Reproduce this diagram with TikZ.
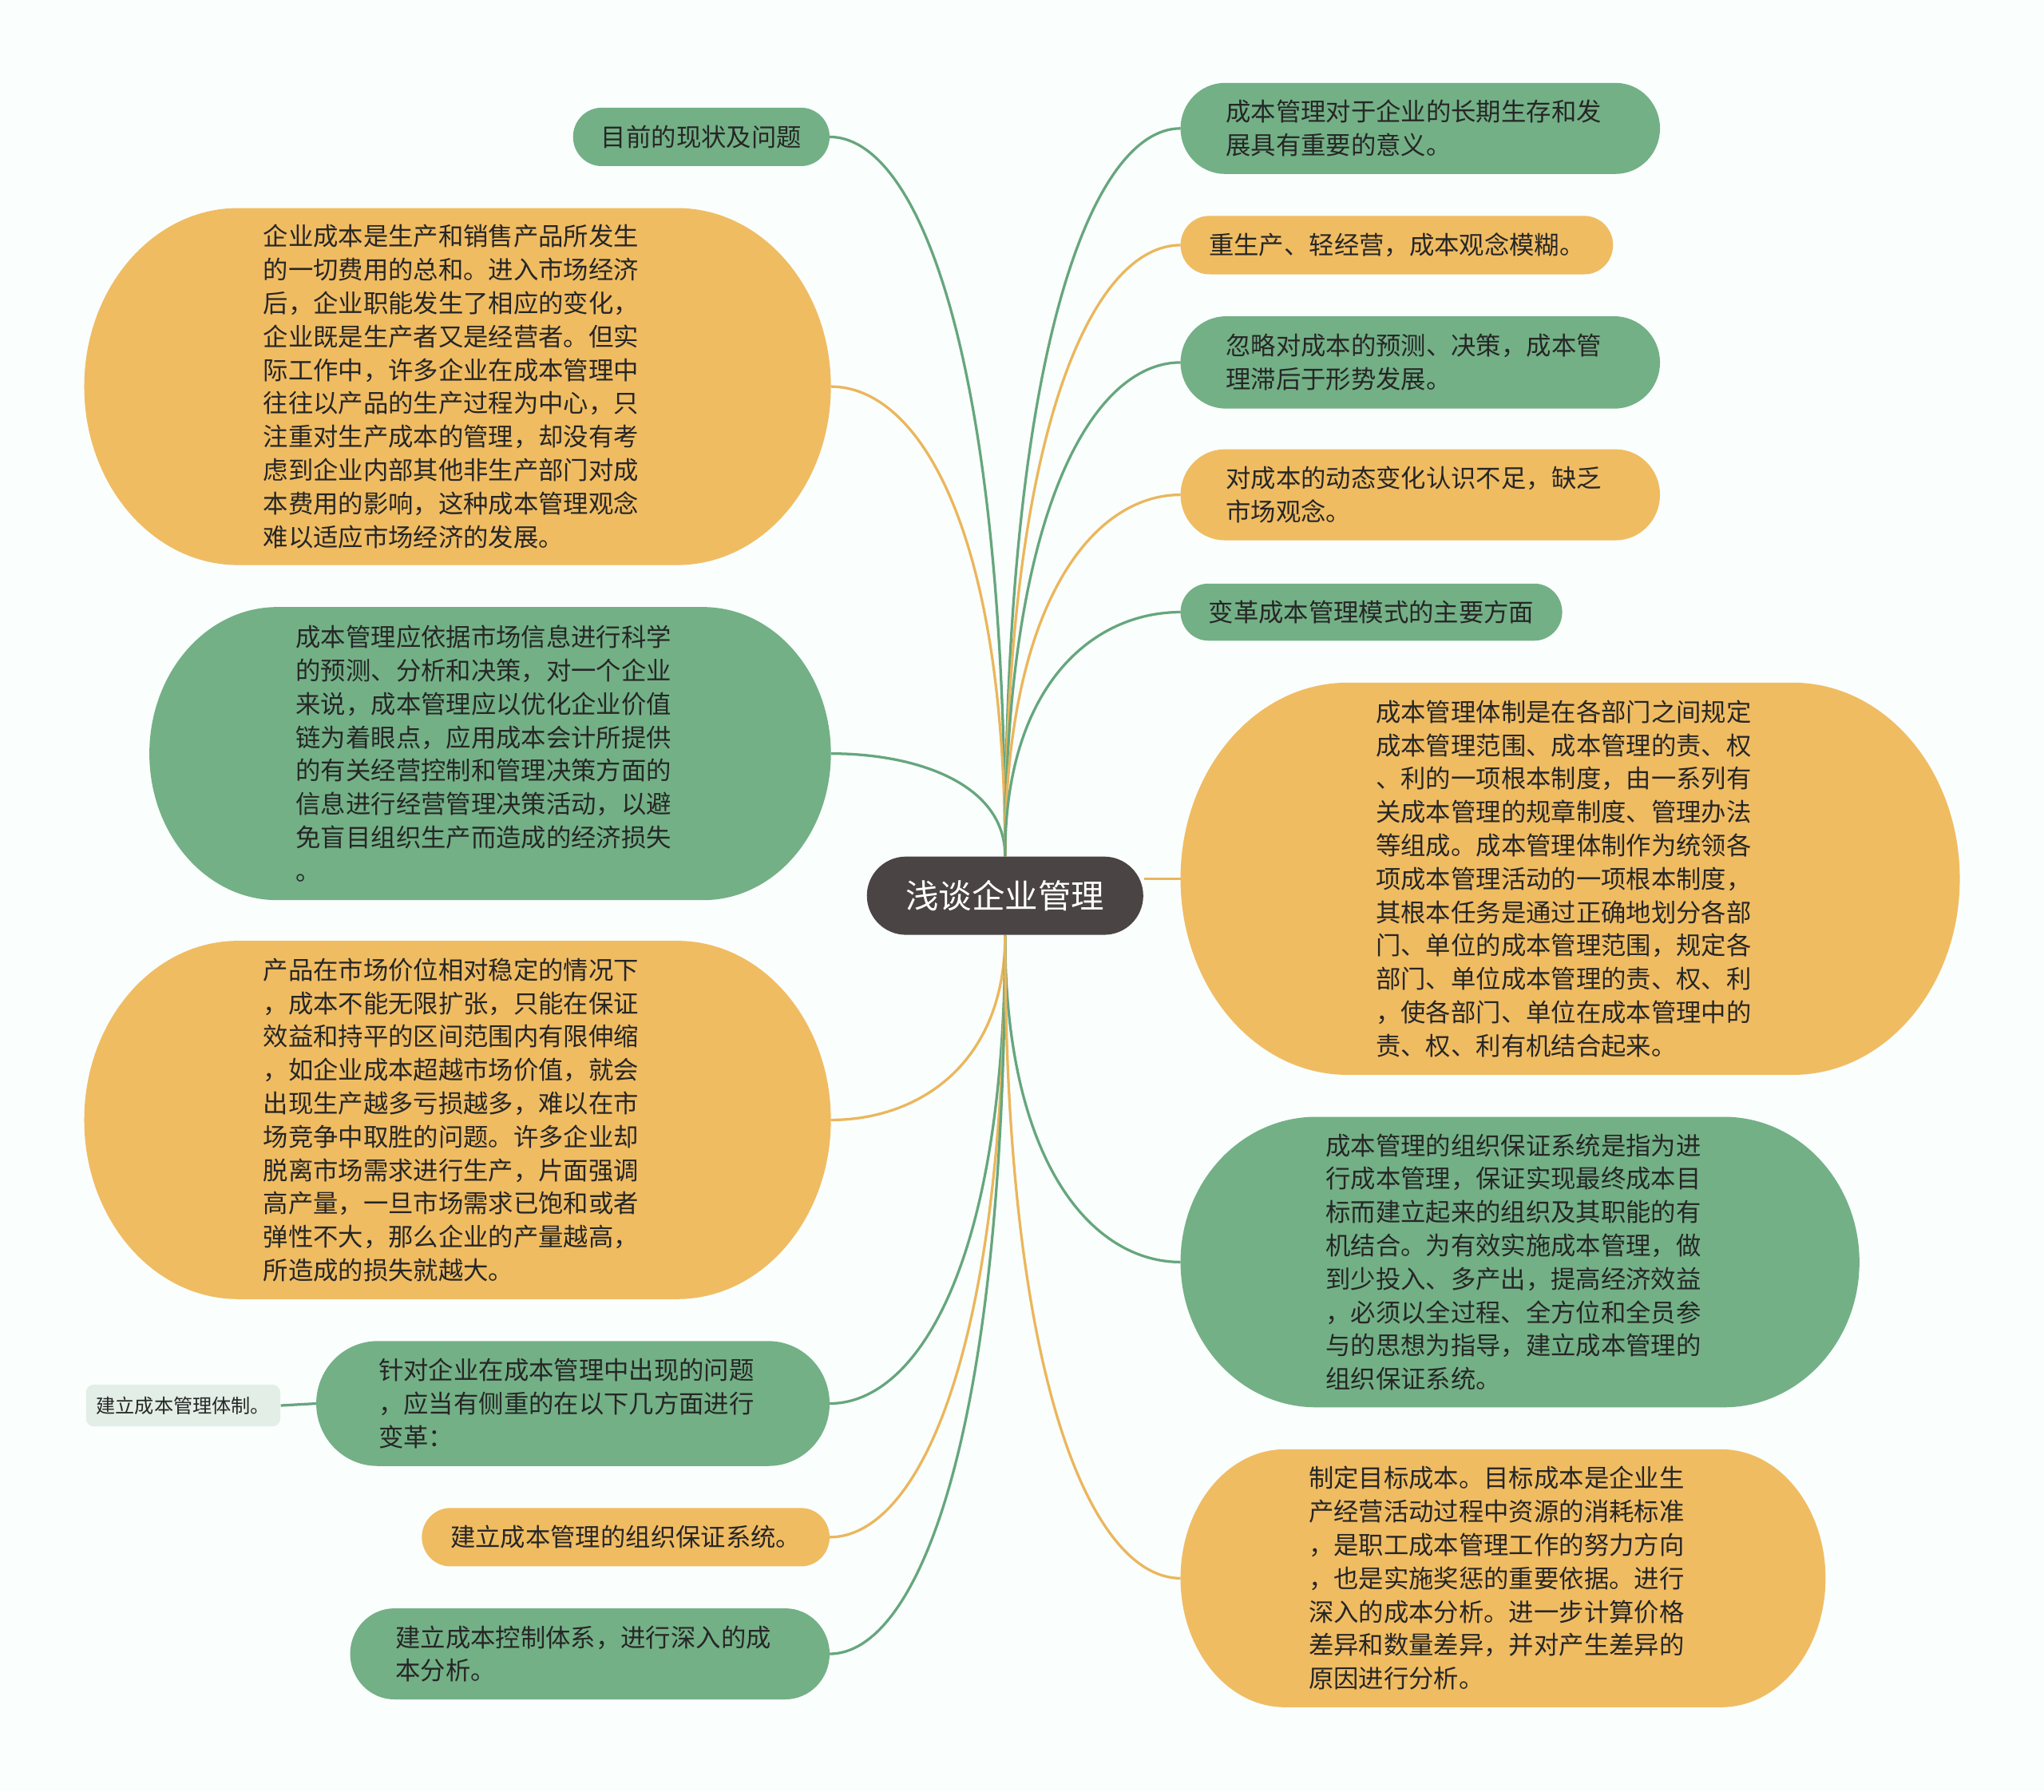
\documentclass[tikz,border=0pt]{standalone}
\usepackage{fontspec}
\setmainfont{Noto Sans CJK SC}
\usetikzlibrary{calc,shapes.misc}
\pgfdeclarelayer{pagelayer}
\pgfdeclarelayer{bg}
\pgfsetlayers{pagelayer,bg,main}
\definecolor{gfill}{HTML}{73B086}
\definecolor{ofill}{HTML}{F0BC62}
\definecolor{gline}{HTML}{66A67D}
\definecolor{oline}{HTML}{EBB65C}
\definecolor{ctrfill}{HTML}{4A4445}
\definecolor{pagebg}{HTML}{FAFEFD}
\definecolor{txt}{HTML}{262626}
\definecolor{lightfill}{HTML}{E2EEE6}
\newcommand\bubble[3]{%
  \fill[#3] let \p1=(#1.north west), \p2=(#1.south east), \n1={0.5*(\y1-\y2)} in
    (\x1+#2,\y1) -- (\x2-#2,\y1)
    arc[start angle=90,end angle=-90,x radius=#2,y radius={\n1*1pt}]
    -- (\x1+#2,\y2)
    arc[start angle=270,end angle=90,x radius=#2,y radius={\n1*1pt}] -- cycle;}
\newcommand\link[3]{%
  \draw[#3] let \p1=(#1), \p2=(#2) in
    (\p1) .. controls (\x1,{\y1+0.7*(\y2-\y1)}) and ({\x1+0.5*(\x2-\x1)},\y2) .. (\p2);}
\tikzset{
  bub/.style={inner sep=0pt, align=left, text=txt, font=\fontsize{9.6}{12.8}\selectfont},
  wide/.style={text width=149pt},
  gconn/.style={draw=gline, line width=1pt},
  oconn/.style={draw=oline, line width=1pt},
}
\begin{document}
\begin{tikzpicture}[x=0.5pt,y=-0.5pt]
\begin{pgfonlayer}{pagelayer}
\path[use as bounding box, fill=pagebg] (0,0) rectangle (1568,1374);
\end{pgfonlayer}

% centre
\node[rounded rectangle, fill=ctrfill, text=white, inner sep=0pt,
      minimum width=106pt, minimum height=30pt,
      font=\fontsize{12.7}{15}\selectfont] (C) at (771,687) {浅谈企业管理};

% left side
\node[bub, minimum width=98pt, minimum height=22pt] (L1) at (538,105) {目前的现状及问题};
\node[bub, wide, minimum width=286pt, minimum height=136.5pt] (L2) at (351,296.5) {企业成本是生产和销售产品所发生\\
的一切费用的总和。进入市场经济\\
后，企业职能发生了相应的变化，\\
企业既是生产者又是经营者。但实\\
际工作中，许多企业在成本管理中\\
往往以产品的生产过程为中心，只\\
注重对生产成本的管理，却没有考\\
虑到企业内部其他非生产部门对成\\
本费用的影响，这种成本管理观念\\
难以适应市场经济的发展。};
\node[bub, wide, minimum width=261pt, minimum height=112pt] (L3) at (376,578) {成本管理应依据市场信息进行科学\\
的预测、分析和决策，对一个企业\\
来说，成本管理应以优化企业价值\\
链为着眼点，应用成本会计所提供\\
的有关经营控制和管理决策方面的\\
信息进行经营管理决策活动，以避\\
免盲目组织生产而造成的经济损失\\
。};
\node[bub, wide, minimum width=286pt, minimum height=137pt] (L4) at (351,859) {产品在市场价位相对稳定的情况下\\
，成本不能无限扩张，只能在保证\\
效益和持平的区间范围内有限伸缩\\
，如企业成本超越市场价值，就会\\
出现生产越多亏损越多，难以在市\\
场竞争中取胜的问题。许多企业却\\
脱离市场需求进行生产，片面强调\\
高产量，一旦市场需求已饱和或者\\
弹性不大，那么企业的产量越高，\\
所造成的损失就越大。};
\node[bub, wide, minimum width=196.5pt, minimum height=47.5pt] (L5) at (439.5,1076.5) {针对企业在成本管理中出现的问题\\
，应当有侧重的在以下几方面进行\\
变革：};
\node[inner sep=0pt, rounded corners=3pt, fill=lightfill, text=txt,
      minimum width=74.5pt, minimum height=16pt,
      font=\fontsize{7.4}{9}\selectfont] (L6) at (140.5,1078) {建立成本管理体制。};
\node[bub, minimum width=156pt, minimum height=22pt] (L7) at (480,1179) {建立成本管理的组织保证系统。};
\node[bub, wide, minimum width=183.5pt, minimum height=34.5pt] (L8) at (452.5,1268.5) {建立成本控制体系，进行深入的成\\
本分析。};

% right side
\node[bub, wide, minimum width=183.5pt, minimum height=34.5pt] (R1) at (1089.5,98.5) {成本管理对于企业的长期生存和发\\
展具有重要的意义。};
\node[bub, minimum width=165.5pt, minimum height=22pt] (R2) at (1071.5,188) {重生产、轻经营，成本观念模糊。};
\node[bub, wide, minimum width=183.5pt, minimum height=35pt] (R3) at (1089.5,278) {忽略对成本的预测、决策，成本管\\
理滞后于形势发展。};
\node[bub, wide, minimum width=183.5pt, minimum height=34.5pt] (R4) at (1089.5,379.5) {对成本的动态变化认识不足，缺乏\\
市场观念。};
\node[bub, minimum width=146pt, minimum height=21.5pt] (R5) at (1052,469.5) {变革成本管理模式的主要方面};
\node[bub, wide, minimum width=298.5pt, minimum height=150pt] (R6) at (1204.5,674) {成本管理体制是在各部门之间规定\\
成本管理范围、成本管理的责、权\\
、利的一项根本制度，由一系列有\\
关成本管理的规章制度、管理办法\\
等组成。成本管理体制作为统领各\\
项成本管理活动的一项根本制度，\\
其根本任务是通过正确地划分各部\\
门、单位的成本管理范围，规定各\\
部门、单位成本管理的责、权、利\\
，使各部门、单位在成本管理中的\\
责、权、利有机结合起来。};
\node[bub, wide, minimum width=260pt, minimum height=111pt] (R7) at (1166,968) {成本管理的组织保证系统是指为进\\
行成本管理，保证实现最终成本目\\
标而建立起来的组织及其职能的有\\
机结合。为有效实施成本管理，做\\
到少投入、多产出，提高经济效益\\
，必须以全过程、全方位和全员参\\
与的思想为指导，建立成本管理的\\
组织保证系统。};
\node[bub, wide, minimum width=247pt, minimum height=98.5pt] (R8) at (1153,1210.5) {制定目标成本。目标成本是企业生\\
产经营活动过程中资源的消耗标准\\
，是职工成本管理工作的努力方向\\
，也是实施奖惩的重要依据。进行\\
深入的成本分析。进一步计算价格\\
差异和数量差异，并对产生差异的\\
原因进行分析。};

\begin{pgfonlayer}{bg}
  % connectors
  \link{C.north}{L1.east}{gconn}
  \link{C.north}{L2.east}{oconn}
  \link{C.north}{L3.east}{gconn}
  \link{C.south}{L4.east}{oconn}
  \link{C.south}{L5.east}{gconn}
  \link{C.south}{L7.east}{oconn}
  \link{C.south}{L8.east}{gconn}
  \link{C.north}{R1.west}{gconn}
  \link{C.north}{R2.west}{oconn}
  \link{C.north}{R3.west}{gconn}
  \link{C.north}{R4.west}{oconn}
  \link{C.north}{R5.west}{gconn}
  \draw[oconn] (R6.west -| C.east) -- (R6.west);
  \link{C.south}{R7.west}{gconn}
  \link{C.south}{R8.west}{oconn}
  \draw[gconn] (L5.west) -- (L6.east);
  % bubbles
  \bubble{L1}{11pt}{gfill}
  \bubble{L2}{59pt}{ofill}
  \bubble{L3}{49pt}{gfill}
  \bubble{L4}{59pt}{ofill}
  \bubble{L5}{23.5pt}{gfill}
  \bubble{L7}{11pt}{ofill}
  \bubble{L8}{17pt}{gfill}
  \bubble{R1}{17pt}{gfill}
  \bubble{R2}{11pt}{ofill}
  \bubble{R3}{17.5pt}{gfill}
  \bubble{R4}{17pt}{ofill}
  \bubble{R5}{10.75pt}{gfill}
  \bubble{R6}{64pt}{ofill}
  \bubble{R7}{52pt}{gfill}
  \bubble{R8}{40pt}{ofill}
\end{pgfonlayer}
\end{tikzpicture}
\end{document}
